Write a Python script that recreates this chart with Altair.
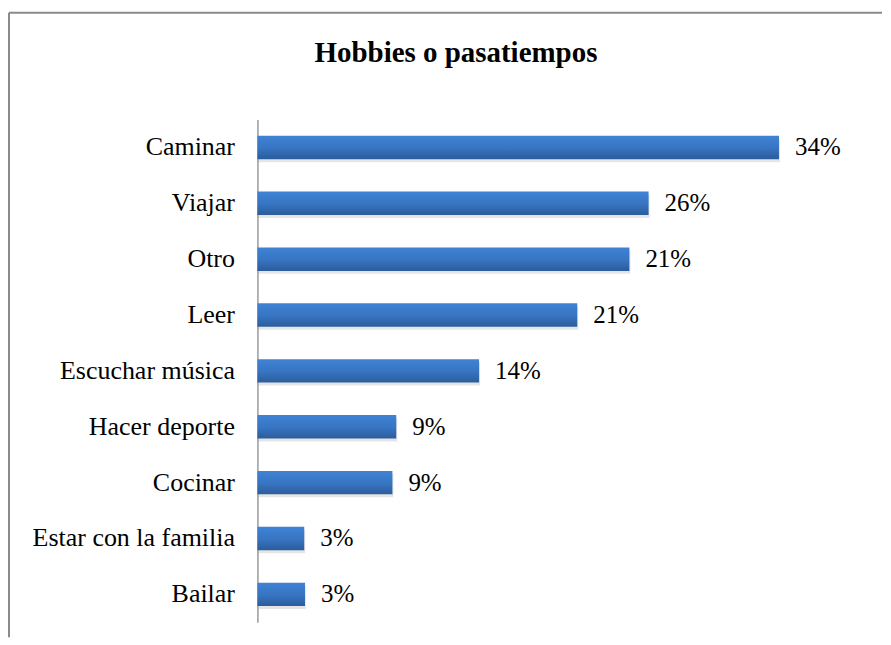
import altair as alt
import pandas as pd

categories = ["Caminar", "Viajar", "Otro", "Leer", "Escuchar música",
              "Hacer deporte", "Cocinar", "Estar con la familia", "Bailar"]
values = [34.0, 25.5, 24.25, 20.85, 14.45, 9.05, 8.8, 3.05, 3.1]
labels = ["34%", "26%", "21%", "21%", "14%", "9%", "9%", "3%", "3%"]
title_text = "Hobbies o pasatiempos"

df = pd.DataFrame({"cat": categories, "val": values, "lab": labels})

W = 615
H = 504
FONT = "Liberation Serif"

y = alt.Y("cat:N", sort=categories,
          scale=alt.Scale(paddingInner=0.58, paddingOuter=0.29),
          axis=alt.Axis(title=None, ticks=False, labelPadding=23,
                        labelFontSize=26, labelFont=FONT, labelColor="black",
                        domainColor="#9a9a9a", domainWidth=1.5, labelLimit=400,
                        grid=False))
x = alt.X("val:Q", scale=alt.Scale(domain=[0, 40], nice=False, zero=True), axis=None)

base = alt.Chart(df)

shadow = base.mark_bar(color="#000000", opacity=0.10, yOffset=3, xOffset=1).encode(y=y, x=x)

grad = alt.Gradient(
    gradient="linear",
    stops=[alt.GradientStop(color="#3f82d4", offset=0),
           alt.GradientStop(color="#3876c4", offset=0.5),
           alt.GradientStop(color="#2c5c9b", offset=1)],
    x1=0, x2=0, y1=0, y2=1)

bars = base.mark_bar(color=grad).encode(y=y, x=x)

text = base.mark_text(align="left", baseline="middle", dx=16, fontSize=25,
                      font=FONT, color="black").encode(y=y, x=x, text="lab:N")

one = pd.DataFrame({"t": [title_text]})
top_rule = alt.Chart(one).mark_rule(color="#8a8a8a", strokeWidth=2).encode(
    x=alt.value(-249), x2=alt.value(626), y=alt.value(-107))
left_rule = alt.Chart(one).mark_rule(color="#8a8a8a", strokeWidth=2).encode(
    x=alt.value(-249), y=alt.value(-107), y2=alt.value(519))
title = alt.Chart(one).mark_text(font=FONT, fontSize=29, fontWeight="bold",
                                 align="center", baseline="alphabetic",
                                 color="black").encode(
    text="t:N", x=alt.value(199), y=alt.value(-58))

chart = alt.layer(top_rule, left_rule, title, shadow, bars, text).properties(
    width=W, height=H,
    padding={"left": 0, "top": 3, "right": 0, "bottom": 0}
).configure_view(stroke=None)

chart.save("out.html", embed_options={"renderer": "svg", "actions": False})
